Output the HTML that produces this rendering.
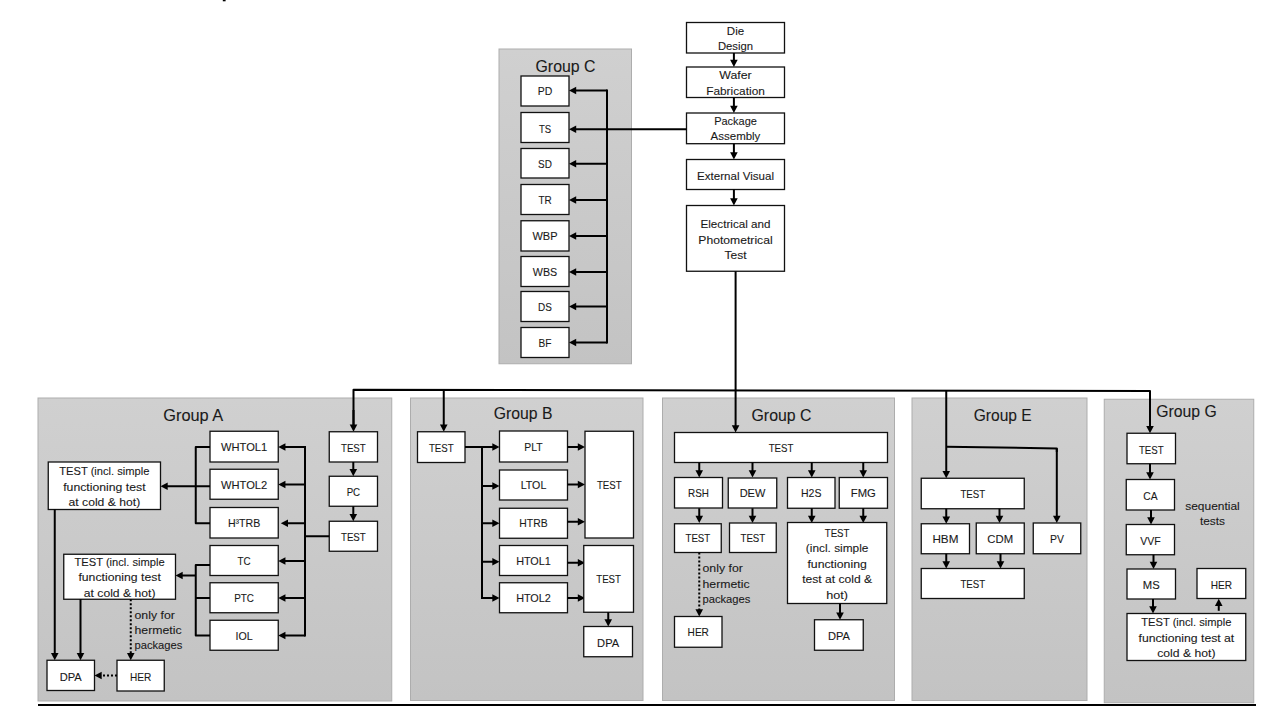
<!DOCTYPE html>
<html><head><meta charset="utf-8"><style>
html,body{margin:0;padding:0;background:#fff;width:1280px;height:708px;overflow:hidden}
svg{display:block}
text{font-family:"Liberation Sans",sans-serif;fill:#1a1a1a;stroke:#1a1a1a;stroke-width:0.1px}
</style></head><body>
<svg width="1280" height="708" viewBox="0 0 1280 708">
<defs><linearGradient id="pg" x1="0" y1="0" x2="0" y2="1"><stop offset="0" stop-color="#d0d0d0"/><stop offset="1" stop-color="#c3c3c3"/></linearGradient></defs>
<rect x="499.00" y="49.00" width="132.50" height="314.75" fill="url(#pg)" stroke="#adadad" stroke-width="1"/>
<rect x="38.00" y="398.00" width="353.75" height="303.00" fill="url(#pg)" stroke="#adadad" stroke-width="1"/>
<rect x="410.50" y="398.00" width="232.50" height="302.50" fill="url(#pg)" stroke="#adadad" stroke-width="1"/>
<rect x="662.50" y="398.00" width="232.00" height="302.50" fill="url(#pg)" stroke="#adadad" stroke-width="1"/>
<rect x="912.00" y="398.00" width="175.00" height="302.50" fill="url(#pg)" stroke="#adadad" stroke-width="1"/>
<rect x="1104.25" y="399.25" width="149.50" height="303.50" fill="url(#pg)" stroke="#adadad" stroke-width="1"/>
<rect x="686.50" y="22.50" width="98.00" height="30.50" fill="#fff" stroke="#111" stroke-width="1.3"/>
<text x="735.50" y="34.80" font-size="11.3" text-anchor="middle" textLength="17.28" lengthAdjust="spacingAndGlyphs">Die</text>
<text x="735.50" y="50.00" font-size="11.3" text-anchor="middle" textLength="35.12" lengthAdjust="spacingAndGlyphs">Design</text>
<rect x="686.50" y="67.00" width="98.00" height="30.50" fill="#fff" stroke="#111" stroke-width="1.3"/>
<text x="735.50" y="79.30" font-size="11.3" text-anchor="middle" textLength="32.43" lengthAdjust="spacingAndGlyphs">Wafer</text>
<text x="735.50" y="94.80" font-size="11.3" text-anchor="middle" textLength="58.67" lengthAdjust="spacingAndGlyphs">Fabrication</text>
<rect x="686.50" y="113.00" width="98.00" height="30.70" fill="#fff" stroke="#111" stroke-width="1.3"/>
<text x="735.50" y="125.00" font-size="11.3" text-anchor="middle" textLength="42.73" lengthAdjust="spacingAndGlyphs">Package</text>
<text x="735.50" y="140.00" font-size="11.3" text-anchor="middle" textLength="49.73" lengthAdjust="spacingAndGlyphs">Assembly</text>
<rect x="686.50" y="159.50" width="98.00" height="30.00" fill="#fff" stroke="#111" stroke-width="1.3"/>
<text x="735.50" y="179.60" font-size="11.3" text-anchor="middle" textLength="76.99" lengthAdjust="spacingAndGlyphs">External Visual</text>
<rect x="686.50" y="205.50" width="98.00" height="65.75" fill="#fff" stroke="#111" stroke-width="1.3"/>
<text x="735.50" y="228.10" font-size="11.3" text-anchor="middle" textLength="69.98" lengthAdjust="spacingAndGlyphs">Electrical and</text>
<text x="735.50" y="243.75" font-size="11.3" text-anchor="middle" textLength="74.28" lengthAdjust="spacingAndGlyphs">Photometrical</text>
<text x="735.50" y="258.75" font-size="11.3" text-anchor="middle" textLength="22.01" lengthAdjust="spacingAndGlyphs">Test</text>
<path d="M733.90 53.00 L733.90 61.00" fill="none" stroke="#000" stroke-width="2" stroke-linejoin="round"/>
<path d="M733.90 67.00 L730.10 59.80 L737.70 59.80 Z" fill="#000"/>
<path d="M733.90 97.50 L733.90 107.00" fill="none" stroke="#000" stroke-width="2" stroke-linejoin="round"/>
<path d="M733.90 113.00 L730.10 105.80 L737.70 105.80 Z" fill="#000"/>
<path d="M733.90 143.70 L733.90 153.50" fill="none" stroke="#000" stroke-width="2" stroke-linejoin="round"/>
<path d="M733.90 159.50 L730.10 152.30 L737.70 152.30 Z" fill="#000"/>
<path d="M733.90 189.50 L733.90 199.50" fill="none" stroke="#000" stroke-width="2" stroke-linejoin="round"/>
<path d="M733.90 205.50 L730.10 198.30 L737.70 198.30 Z" fill="#000"/>
<text x="535.50" y="72.00" font-size="16.3" text-anchor="start" textLength="60.00" lengthAdjust="spacingAndGlyphs">Group C</text>
<rect x="521.00" y="76.00" width="48.00" height="30.00" fill="#fff" stroke="#111" stroke-width="1.3"/>
<text x="545.00" y="94.50" font-size="11.3" text-anchor="middle" textLength="14.56" lengthAdjust="spacingAndGlyphs">PD</text>
<path d="M607.00 90.50 L575.00 90.50" fill="none" stroke="#000" stroke-width="2" stroke-linejoin="round"/>
<path d="M569.00 90.50 L576.20 86.70 L576.20 94.30 Z" fill="#000"/>
<rect x="521.00" y="112.50" width="48.00" height="30.00" fill="#fff" stroke="#111" stroke-width="1.3"/>
<text x="545.00" y="133.25" font-size="11.3" text-anchor="middle" textLength="12.17" lengthAdjust="spacingAndGlyphs">TS</text>
<rect x="521.00" y="148.50" width="48.00" height="29.50" fill="#fff" stroke="#111" stroke-width="1.3"/>
<text x="545.00" y="167.75" font-size="11.3" text-anchor="middle" textLength="13.82" lengthAdjust="spacingAndGlyphs">SD</text>
<path d="M607.00 163.75 L575.00 163.75" fill="none" stroke="#000" stroke-width="2" stroke-linejoin="round"/>
<path d="M569.00 163.75 L576.20 159.95 L576.20 167.55 Z" fill="#000"/>
<rect x="521.00" y="184.50" width="48.00" height="30.00" fill="#fff" stroke="#111" stroke-width="1.3"/>
<text x="545.00" y="204.00" font-size="11.3" text-anchor="middle" textLength="13.25" lengthAdjust="spacingAndGlyphs">TR</text>
<path d="M607.00 200.00 L575.00 200.00" fill="none" stroke="#000" stroke-width="2" stroke-linejoin="round"/>
<path d="M569.00 200.00 L576.20 196.20 L576.20 203.80 Z" fill="#000"/>
<rect x="521.00" y="220.75" width="48.00" height="30.25" fill="#fff" stroke="#111" stroke-width="1.3"/>
<text x="545.00" y="240.00" font-size="11.3" text-anchor="middle" textLength="25.10" lengthAdjust="spacingAndGlyphs">WBP</text>
<path d="M607.00 236.00 L575.00 236.00" fill="none" stroke="#000" stroke-width="2" stroke-linejoin="round"/>
<path d="M569.00 236.00 L576.20 232.20 L576.20 239.80 Z" fill="#000"/>
<rect x="521.00" y="256.50" width="48.00" height="30.00" fill="#fff" stroke="#111" stroke-width="1.3"/>
<text x="545.00" y="276.00" font-size="11.3" text-anchor="middle" textLength="24.35" lengthAdjust="spacingAndGlyphs">WBS</text>
<path d="M607.00 272.00 L575.00 272.00" fill="none" stroke="#000" stroke-width="2" stroke-linejoin="round"/>
<path d="M569.00 272.00 L576.20 268.20 L576.20 275.80 Z" fill="#000"/>
<rect x="521.00" y="291.50" width="48.00" height="30.00" fill="#fff" stroke="#111" stroke-width="1.3"/>
<text x="545.00" y="310.50" font-size="11.3" text-anchor="middle" textLength="13.82" lengthAdjust="spacingAndGlyphs">DS</text>
<path d="M607.00 306.50 L575.00 306.50" fill="none" stroke="#000" stroke-width="2" stroke-linejoin="round"/>
<path d="M569.00 306.50 L576.20 302.70 L576.20 310.30 Z" fill="#000"/>
<rect x="521.00" y="327.50" width="48.00" height="30.00" fill="#fff" stroke="#111" stroke-width="1.3"/>
<text x="545.00" y="346.50" font-size="11.3" text-anchor="middle" textLength="12.90" lengthAdjust="spacingAndGlyphs">BF</text>
<path d="M607.00 342.50 L575.00 342.50" fill="none" stroke="#000" stroke-width="2" stroke-linejoin="round"/>
<path d="M569.00 342.50 L576.20 338.70 L576.20 346.30 Z" fill="#000"/>
<path d="M607.00 89.50 L607.00 343.50" fill="none" stroke="#000" stroke-width="2" stroke-linejoin="round"/>
<path d="M686.50 129.25 L575.00 129.25" fill="none" stroke="#000" stroke-width="2" stroke-linejoin="round"/>
<path d="M569.00 129.25 L576.20 125.45 L576.20 133.05 Z" fill="#000"/>
<path d="M735.60 271.25 L735.60 390.50" fill="none" stroke="#000" stroke-width="2" stroke-linejoin="round"/>
<path d="M353.50 426.00 L353.50 389.80 L1150.00 391.00 L1150.00 427.00" fill="none" stroke="#000" stroke-width="2" stroke-linejoin="round"/>
<path d="M353.50 410.00 L353.50 425.75" fill="none" stroke="#000" stroke-width="2" stroke-linejoin="round"/>
<path d="M353.50 431.75 L349.70 424.55 L357.30 424.55 Z" fill="#000"/>
<path d="M443.75 389.94 L443.75 425.75" fill="none" stroke="#000" stroke-width="2" stroke-linejoin="round"/>
<path d="M443.75 431.75 L439.95 424.55 L447.55 424.55 Z" fill="#000"/>
<path d="M735.60 390.38 L735.60 426.50" fill="none" stroke="#000" stroke-width="2" stroke-linejoin="round"/>
<path d="M735.60 432.50 L731.80 425.30 L739.40 425.30 Z" fill="#000"/>
<path d="M946.25 390.69 L946.25 472.25" fill="none" stroke="#000" stroke-width="2" stroke-linejoin="round"/>
<path d="M946.25 478.25 L942.45 471.05 L950.05 471.05 Z" fill="#000"/>
<path d="M1150.00 410.00 L1150.00 427.25" fill="none" stroke="#000" stroke-width="2" stroke-linejoin="round"/>
<path d="M1150.00 433.25 L1146.20 426.05 L1153.80 426.05 Z" fill="#000"/>
<text x="163.25" y="421.00" font-size="16.3" text-anchor="start" textLength="60.00" lengthAdjust="spacingAndGlyphs">Group A</text>
<rect x="329.25" y="431.75" width="48.25" height="30.25" fill="#fff" stroke="#111" stroke-width="1.3"/>
<text x="353.38" y="452.00" font-size="11.3" text-anchor="middle" textLength="24.71" lengthAdjust="spacingAndGlyphs">TEST</text>
<rect x="329.25" y="476.25" width="48.25" height="30.00" fill="#fff" stroke="#111" stroke-width="1.3"/>
<text x="353.38" y="496.00" font-size="11.3" text-anchor="middle" textLength="13.51" lengthAdjust="spacingAndGlyphs">PC</text>
<rect x="329.25" y="521.25" width="48.25" height="30.00" fill="#fff" stroke="#111" stroke-width="1.3"/>
<text x="353.38" y="541.00" font-size="11.3" text-anchor="middle" textLength="24.71" lengthAdjust="spacingAndGlyphs">TEST</text>
<path d="M353.30 462.00 L353.30 470.25" fill="none" stroke="#000" stroke-width="2" stroke-linejoin="round"/>
<path d="M353.30 476.25 L349.50 469.05 L357.10 469.05 Z" fill="#000"/>
<path d="M353.30 506.25 L353.30 515.25" fill="none" stroke="#000" stroke-width="2" stroke-linejoin="round"/>
<path d="M353.30 521.25 L349.50 514.05 L357.10 514.05 Z" fill="#000"/>
<path d="M329.25 536.25 L305.00 536.25" fill="none" stroke="#000" stroke-width="2" stroke-linejoin="round"/>
<path d="M305.00 446.00 L305.00 636.50" fill="none" stroke="#000" stroke-width="2" stroke-linejoin="round"/>
<rect x="210.00" y="431.25" width="68.25" height="30.75" fill="#fff" stroke="#111" stroke-width="1.3"/>
<text x="244.12" y="451.00" font-size="11.3" text-anchor="middle" textLength="46.17" lengthAdjust="spacingAndGlyphs">WHTOL1</text>
<path d="M305.00 447.00 L284.25 447.00" fill="none" stroke="#000" stroke-width="2" stroke-linejoin="round"/>
<path d="M278.25 447.00 L285.45 443.20 L285.45 450.80 Z" fill="#000"/>
<rect x="210.00" y="469.25" width="68.25" height="30.00" fill="#fff" stroke="#111" stroke-width="1.3"/>
<text x="244.12" y="488.50" font-size="11.3" text-anchor="middle" textLength="46.17" lengthAdjust="spacingAndGlyphs">WHTOL2</text>
<path d="M305.00 484.50 L284.25 484.50" fill="none" stroke="#000" stroke-width="2" stroke-linejoin="round"/>
<path d="M278.25 484.50 L285.45 480.70 L285.45 488.30 Z" fill="#000"/>
<rect x="210.00" y="507.50" width="68.25" height="30.50" fill="#fff" stroke="#111" stroke-width="1.3"/>
<text x="244.12" y="527.25" font-size="11.3" text-anchor="middle" textLength="32.38" lengthAdjust="spacingAndGlyphs">H³TRB</text>
<path d="M305.00 523.25 L286.80 523.25" fill="none" stroke="#000" stroke-width="2" stroke-linejoin="round"/>
<path d="M280.80 523.25 L288.00 519.45 L288.00 527.05 Z" fill="#000"/>
<rect x="210.00" y="545.50" width="68.25" height="30.00" fill="#fff" stroke="#111" stroke-width="1.3"/>
<text x="244.12" y="565.00" font-size="11.3" text-anchor="middle" textLength="13.12" lengthAdjust="spacingAndGlyphs">TC</text>
<path d="M305.00 561.00 L284.25 561.00" fill="none" stroke="#000" stroke-width="2" stroke-linejoin="round"/>
<path d="M278.25 561.00 L285.45 557.20 L285.45 564.80 Z" fill="#000"/>
<rect x="210.00" y="582.75" width="68.25" height="30.00" fill="#fff" stroke="#111" stroke-width="1.3"/>
<text x="244.12" y="602.00" font-size="11.3" text-anchor="middle" textLength="19.77" lengthAdjust="spacingAndGlyphs">PTC</text>
<path d="M305.00 598.00 L284.25 598.00" fill="none" stroke="#000" stroke-width="2" stroke-linejoin="round"/>
<path d="M278.25 598.00 L285.45 594.20 L285.45 601.80 Z" fill="#000"/>
<rect x="210.00" y="620.25" width="68.25" height="30.00" fill="#fff" stroke="#111" stroke-width="1.3"/>
<text x="244.12" y="639.50" font-size="11.3" text-anchor="middle" textLength="17.16" lengthAdjust="spacingAndGlyphs">IOL</text>
<path d="M305.00 635.50 L284.25 635.50" fill="none" stroke="#000" stroke-width="2" stroke-linejoin="round"/>
<path d="M278.25 635.50 L285.45 631.70 L285.45 639.30 Z" fill="#000"/>
<path d="M210.00 447.00 L195.75 447.00 L195.75 523.25 L210.00 523.25" fill="none" stroke="#000" stroke-width="2" stroke-linejoin="round"/>
<path d="M210.00 486.25 L166.50 486.25" fill="none" stroke="#000" stroke-width="2" stroke-linejoin="round"/>
<path d="M160.50 486.25 L167.70 482.45 L167.70 490.05 Z" fill="#000"/>
<path d="M210.00 565.00 L195.75 565.00 L195.75 635.50 L210.00 635.50" fill="none" stroke="#000" stroke-width="2" stroke-linejoin="round"/>
<path d="M195.75 598.00 L210.00 598.00" fill="none" stroke="#000" stroke-width="2" stroke-linejoin="round"/>
<path d="M195.75 575.50 L181.50 575.50" fill="none" stroke="#000" stroke-width="2" stroke-linejoin="round"/>
<path d="M175.50 575.50 L182.70 571.70 L182.70 579.30 Z" fill="#000"/>
<rect x="48.25" y="462.00" width="112.25" height="47.50" fill="#fff" stroke="#111" stroke-width="1.3"/>
<text x="104.38" y="475.00" font-size="11.3" text-anchor="middle" textLength="90.16" lengthAdjust="spacingAndGlyphs">TEST (incl. simple</text>
<text x="104.38" y="490.50" font-size="11.3" text-anchor="middle" textLength="82.41" lengthAdjust="spacingAndGlyphs">functioning test</text>
<text x="104.38" y="505.75" font-size="11.3" text-anchor="middle" textLength="71.64" lengthAdjust="spacingAndGlyphs">at cold &amp; hot)</text>
<rect x="63.75" y="554.25" width="111.75" height="45.00" fill="#fff" stroke="#111" stroke-width="1.3"/>
<text x="119.62" y="566.00" font-size="11.3" text-anchor="middle" textLength="90.16" lengthAdjust="spacingAndGlyphs">TEST (incl. simple</text>
<text x="119.62" y="581.00" font-size="11.3" text-anchor="middle" textLength="82.41" lengthAdjust="spacingAndGlyphs">functioning test</text>
<text x="119.62" y="596.50" font-size="11.3" text-anchor="middle" textLength="71.64" lengthAdjust="spacingAndGlyphs">at cold &amp; hot)</text>
<path d="M54.75 509.50 L54.75 654.25" fill="none" stroke="#000" stroke-width="2" stroke-linejoin="round"/>
<path d="M54.75 660.25 L50.95 653.05 L58.55 653.05 Z" fill="#000"/>
<path d="M80.50 599.25 L80.50 654.25" fill="none" stroke="#000" stroke-width="2" stroke-linejoin="round"/>
<path d="M80.50 660.25 L76.70 653.05 L84.30 653.05 Z" fill="#000"/>
<path d="M130.75 599.25 L130.75 654.25" fill="none" stroke="#000" stroke-width="2" stroke-linejoin="round" stroke-dasharray="2,2"/>
<path d="M130.75 660.25 L126.95 653.05 L134.55 653.05 Z" fill="#000"/>
<text x="134.50" y="619.00" font-size="11.3" text-anchor="start" textLength="40.42" lengthAdjust="spacingAndGlyphs">only for</text>
<text x="134.50" y="634.00" font-size="11.3" text-anchor="start" textLength="47.04" lengthAdjust="spacingAndGlyphs">hermetic</text>
<text x="134.50" y="649.00" font-size="11.3" text-anchor="start" textLength="47.87" lengthAdjust="spacingAndGlyphs">packages</text>
<rect x="47.00" y="660.25" width="47.50" height="30.25" fill="#fff" stroke="#111" stroke-width="1.3"/>
<text x="70.75" y="680.50" font-size="11.3" text-anchor="middle" textLength="22.01" lengthAdjust="spacingAndGlyphs">DPA</text>
<rect x="117.00" y="660.25" width="47.25" height="30.75" fill="#fff" stroke="#111" stroke-width="1.3"/>
<text x="140.62" y="680.60" font-size="11.3" text-anchor="middle" textLength="21.28" lengthAdjust="spacingAndGlyphs">HER</text>
<path d="M117.00 675.50 L100.50 675.50" fill="none" stroke="#000" stroke-width="2" stroke-linejoin="round" stroke-dasharray="2,2"/>
<path d="M94.50 675.50 L101.70 671.70 L101.70 679.30 Z" fill="#000"/>
<text x="493.75" y="419.00" font-size="16.3" text-anchor="start" textLength="58.75" lengthAdjust="spacingAndGlyphs">Group B</text>
<rect x="417.50" y="431.75" width="47.50" height="30.75" fill="#fff" stroke="#111" stroke-width="1.3"/>
<text x="441.25" y="452.00" font-size="11.3" text-anchor="middle" textLength="24.71" lengthAdjust="spacingAndGlyphs">TEST</text>
<path d="M465.00 447.00 L493.50 447.00" fill="none" stroke="#000" stroke-width="2" stroke-linejoin="round"/>
<path d="M499.50 447.00 L492.30 443.20 L492.30 450.80 Z" fill="#000"/>
<path d="M482.00 447.00 L482.00 599.00" fill="none" stroke="#000" stroke-width="2" stroke-linejoin="round"/>
<rect x="499.50" y="431.00" width="68.00" height="31.00" fill="#fff" stroke="#111" stroke-width="1.3"/>
<text x="533.50" y="450.50" font-size="11.3" text-anchor="middle" textLength="18.32" lengthAdjust="spacingAndGlyphs">PLT</text>
<path d="M567.50 447.00 L579.00 447.00" fill="none" stroke="#000" stroke-width="2" stroke-linejoin="round"/>
<path d="M585.00 447.00 L577.80 443.20 L577.80 450.80 Z" fill="#000"/>
<rect x="499.50" y="470.00" width="68.00" height="30.00" fill="#fff" stroke="#111" stroke-width="1.3"/>
<text x="533.50" y="489.00" font-size="11.3" text-anchor="middle" textLength="25.59" lengthAdjust="spacingAndGlyphs">LTOL</text>
<path d="M482.00 486.00 L493.50 486.00" fill="none" stroke="#000" stroke-width="2" stroke-linejoin="round"/>
<path d="M499.50 486.00 L492.30 482.20 L492.30 489.80 Z" fill="#000"/>
<path d="M567.50 484.50 L579.00 484.50" fill="none" stroke="#000" stroke-width="2" stroke-linejoin="round"/>
<path d="M585.00 484.50 L577.80 480.70 L577.80 488.30 Z" fill="#000"/>
<rect x="499.50" y="508.25" width="68.00" height="30.00" fill="#fff" stroke="#111" stroke-width="1.3"/>
<text x="533.50" y="527.25" font-size="11.3" text-anchor="middle" textLength="28.26" lengthAdjust="spacingAndGlyphs">HTRB</text>
<path d="M482.00 523.25 L493.50 523.25" fill="none" stroke="#000" stroke-width="2" stroke-linejoin="round"/>
<path d="M499.50 523.25 L492.30 519.45 L492.30 527.05 Z" fill="#000"/>
<path d="M567.50 521.75 L579.00 521.75" fill="none" stroke="#000" stroke-width="2" stroke-linejoin="round"/>
<path d="M585.00 521.75 L577.80 517.95 L577.80 525.55 Z" fill="#000"/>
<rect x="499.50" y="545.50" width="68.00" height="30.00" fill="#fff" stroke="#111" stroke-width="1.3"/>
<text x="533.50" y="564.50" font-size="11.3" text-anchor="middle" textLength="34.72" lengthAdjust="spacingAndGlyphs">HTOL1</text>
<path d="M482.00 561.75 L493.50 561.75" fill="none" stroke="#000" stroke-width="2" stroke-linejoin="round"/>
<path d="M499.50 561.75 L492.30 557.95 L492.30 565.55 Z" fill="#000"/>
<path d="M567.50 562.75 L579.00 562.75" fill="none" stroke="#000" stroke-width="2" stroke-linejoin="round"/>
<path d="M585.00 562.75 L577.80 558.95 L577.80 566.55 Z" fill="#000"/>
<rect x="499.50" y="582.75" width="68.00" height="30.00" fill="#fff" stroke="#111" stroke-width="1.3"/>
<text x="533.50" y="601.75" font-size="11.3" text-anchor="middle" textLength="34.72" lengthAdjust="spacingAndGlyphs">HTOL2</text>
<path d="M482.00 598.00 L493.50 598.00" fill="none" stroke="#000" stroke-width="2" stroke-linejoin="round"/>
<path d="M499.50 598.00 L492.30 594.20 L492.30 601.80 Z" fill="#000"/>
<path d="M567.50 598.00 L579.00 598.00" fill="none" stroke="#000" stroke-width="2" stroke-linejoin="round"/>
<path d="M585.00 598.00 L577.80 594.20 L577.80 601.80 Z" fill="#000"/>
<rect x="585.00" y="431.25" width="48.50" height="106.75" fill="#fff" stroke="#111" stroke-width="1.3"/>
<text x="609.25" y="489.25" font-size="11.3" text-anchor="middle" textLength="24.71" lengthAdjust="spacingAndGlyphs">TEST</text>
<rect x="583.75" y="545.50" width="49.75" height="66.75" fill="#fff" stroke="#111" stroke-width="1.3"/>
<text x="608.62" y="583.00" font-size="11.3" text-anchor="middle" textLength="24.71" lengthAdjust="spacingAndGlyphs">TEST</text>
<path d="M608.25 612.25 L608.25 620.50" fill="none" stroke="#000" stroke-width="2" stroke-linejoin="round"/>
<path d="M608.25 626.50 L604.45 619.30 L612.05 619.30 Z" fill="#000"/>
<rect x="583.75" y="626.50" width="48.75" height="30.25" fill="#fff" stroke="#111" stroke-width="1.3"/>
<text x="608.12" y="646.80" font-size="11.3" text-anchor="middle" textLength="22.01" lengthAdjust="spacingAndGlyphs">DPA</text>
<text x="751.50" y="420.75" font-size="16.3" text-anchor="start" textLength="60.00" lengthAdjust="spacingAndGlyphs">Group C</text>
<rect x="674.50" y="432.50" width="213.00" height="30.00" fill="#fff" stroke="#111" stroke-width="1.3"/>
<text x="781.00" y="452.00" font-size="11.3" text-anchor="middle" textLength="24.71" lengthAdjust="spacingAndGlyphs">TEST</text>
<path d="M699.25 462.50 L699.25 471.50" fill="none" stroke="#000" stroke-width="2" stroke-linejoin="round"/>
<path d="M699.25 477.50 L695.45 470.30 L703.05 470.30 Z" fill="#000"/>
<path d="M752.50 462.50 L752.50 471.50" fill="none" stroke="#000" stroke-width="2" stroke-linejoin="round"/>
<path d="M752.50 477.50 L748.70 470.30 L756.30 470.30 Z" fill="#000"/>
<path d="M811.75 462.50 L811.75 471.50" fill="none" stroke="#000" stroke-width="2" stroke-linejoin="round"/>
<path d="M811.75 477.50 L807.95 470.30 L815.55 470.30 Z" fill="#000"/>
<path d="M863.25 462.50 L863.25 471.50" fill="none" stroke="#000" stroke-width="2" stroke-linejoin="round"/>
<path d="M863.25 477.50 L859.45 470.30 L867.05 470.30 Z" fill="#000"/>
<rect x="674.50" y="477.50" width="48.00" height="30.50" fill="#fff" stroke="#111" stroke-width="1.3"/>
<text x="698.50" y="497.00" font-size="11.3" text-anchor="middle" textLength="20.90" lengthAdjust="spacingAndGlyphs">RSH</text>
<rect x="728.25" y="478.00" width="48.50" height="30.00" fill="#fff" stroke="#111" stroke-width="1.3"/>
<text x="752.50" y="497.00" font-size="11.3" text-anchor="middle" textLength="25.64" lengthAdjust="spacingAndGlyphs">DEW</text>
<rect x="787.50" y="477.50" width="47.50" height="30.75" fill="#fff" stroke="#111" stroke-width="1.3"/>
<text x="811.25" y="497.00" font-size="11.3" text-anchor="middle" textLength="20.44" lengthAdjust="spacingAndGlyphs">H2S</text>
<rect x="839.25" y="477.50" width="48.25" height="30.75" fill="#fff" stroke="#111" stroke-width="1.3"/>
<text x="863.38" y="497.00" font-size="11.3" text-anchor="middle" textLength="25.02" lengthAdjust="spacingAndGlyphs">FMG</text>
<path d="M699.25 508.25 L699.25 517.00" fill="none" stroke="#000" stroke-width="2" stroke-linejoin="round"/>
<path d="M699.25 523.00 L695.45 515.80 L703.05 515.80 Z" fill="#000"/>
<path d="M752.50 508.25 L752.50 517.00" fill="none" stroke="#000" stroke-width="2" stroke-linejoin="round"/>
<path d="M752.50 523.00 L748.70 515.80 L756.30 515.80 Z" fill="#000"/>
<path d="M811.75 508.25 L811.75 517.00" fill="none" stroke="#000" stroke-width="2" stroke-linejoin="round"/>
<path d="M811.75 523.00 L807.95 515.80 L815.55 515.80 Z" fill="#000"/>
<path d="M863.25 508.25 L863.25 517.00" fill="none" stroke="#000" stroke-width="2" stroke-linejoin="round"/>
<path d="M863.25 523.00 L859.45 515.80 L867.05 515.80 Z" fill="#000"/>
<rect x="674.50" y="523.75" width="46.75" height="28.75" fill="#fff" stroke="#111" stroke-width="1.3"/>
<text x="697.88" y="542.00" font-size="11.3" text-anchor="middle" textLength="24.71" lengthAdjust="spacingAndGlyphs">TEST</text>
<rect x="729.50" y="523.00" width="46.75" height="29.50" fill="#fff" stroke="#111" stroke-width="1.3"/>
<text x="752.88" y="542.00" font-size="11.3" text-anchor="middle" textLength="24.71" lengthAdjust="spacingAndGlyphs">TEST</text>
<rect x="787.50" y="522.50" width="99.25" height="81.00" fill="#fff" stroke="#111" stroke-width="1.3"/>
<text x="837.12" y="536.75" font-size="11.3" text-anchor="middle" textLength="24.71" lengthAdjust="spacingAndGlyphs">TEST</text>
<text x="837.12" y="552.30" font-size="11.3" text-anchor="middle" textLength="62.54" lengthAdjust="spacingAndGlyphs">(incl. simple</text>
<text x="837.12" y="568.00" font-size="11.3" text-anchor="middle" textLength="59.44" lengthAdjust="spacingAndGlyphs">functioning</text>
<text x="837.12" y="583.00" font-size="11.3" text-anchor="middle" textLength="69.95" lengthAdjust="spacingAndGlyphs">test at cold &amp;</text>
<text x="837.12" y="598.50" font-size="11.3" text-anchor="middle" textLength="21.74" lengthAdjust="spacingAndGlyphs">hot)</text>
<path d="M840.00 603.50 L840.00 613.75" fill="none" stroke="#000" stroke-width="2" stroke-linejoin="round"/>
<path d="M840.00 619.75 L836.20 612.55 L843.80 612.55 Z" fill="#000"/>
<rect x="814.50" y="619.75" width="48.75" height="30.50" fill="#fff" stroke="#111" stroke-width="1.3"/>
<text x="838.88" y="639.50" font-size="11.3" text-anchor="middle" textLength="22.01" lengthAdjust="spacingAndGlyphs">DPA</text>
<path d="M699.25 552.50 L699.25 610.50" fill="none" stroke="#000" stroke-width="2" stroke-linejoin="round" stroke-dasharray="2,2"/>
<path d="M699.25 616.50 L695.45 609.30 L703.05 609.30 Z" fill="#000"/>
<text x="702.50" y="572.25" font-size="11.3" text-anchor="start" textLength="40.42" lengthAdjust="spacingAndGlyphs">only for</text>
<text x="702.50" y="587.75" font-size="11.3" text-anchor="start" textLength="47.04" lengthAdjust="spacingAndGlyphs">hermetic</text>
<text x="702.50" y="602.75" font-size="11.3" text-anchor="start" textLength="47.87" lengthAdjust="spacingAndGlyphs">packages</text>
<rect x="674.50" y="616.50" width="47.50" height="30.75" fill="#fff" stroke="#111" stroke-width="1.3"/>
<text x="698.25" y="636.00" font-size="11.3" text-anchor="middle" textLength="21.28" lengthAdjust="spacingAndGlyphs">HER</text>
<text x="973.75" y="420.75" font-size="16.3" text-anchor="start" textLength="58.00" lengthAdjust="spacingAndGlyphs">Group E</text>
<rect x="921.25" y="478.25" width="103.00" height="30.50" fill="#fff" stroke="#111" stroke-width="1.3"/>
<text x="972.75" y="498.00" font-size="11.3" text-anchor="middle" textLength="24.71" lengthAdjust="spacingAndGlyphs">TEST</text>
<path d="M946.25 446.80 L1056.80 448.40 L1056.80 452.00" fill="none" stroke="#000" stroke-width="2" stroke-linejoin="round"/>
<path d="M1056.80 448.40 L1056.80 517.00" fill="none" stroke="#000" stroke-width="2" stroke-linejoin="round"/>
<path d="M1056.80 523.00 L1053.00 515.80 L1060.60 515.80 Z" fill="#000"/>
<path d="M946.25 508.75 L946.25 517.75" fill="none" stroke="#000" stroke-width="2" stroke-linejoin="round"/>
<path d="M946.25 523.75 L942.45 516.55 L950.05 516.55 Z" fill="#000"/>
<path d="M999.50 508.75 L999.50 517.00" fill="none" stroke="#000" stroke-width="2" stroke-linejoin="round"/>
<path d="M999.50 523.00 L995.70 515.80 L1003.30 515.80 Z" fill="#000"/>
<rect x="921.25" y="523.75" width="48.25" height="30.00" fill="#fff" stroke="#111" stroke-width="1.3"/>
<text x="945.38" y="543.00" font-size="11.3" text-anchor="middle" textLength="26.01" lengthAdjust="spacingAndGlyphs">HBM</text>
<rect x="976.25" y="523.00" width="48.00" height="30.75" fill="#fff" stroke="#111" stroke-width="1.3"/>
<text x="1000.25" y="543.00" font-size="11.3" text-anchor="middle" textLength="25.77" lengthAdjust="spacingAndGlyphs">CDM</text>
<rect x="1033.25" y="523.00" width="47.50" height="30.75" fill="#fff" stroke="#111" stroke-width="1.3"/>
<text x="1057.00" y="543.00" font-size="11.3" text-anchor="middle" textLength="13.94" lengthAdjust="spacingAndGlyphs">PV</text>
<path d="M946.25 553.75 L946.25 562.50" fill="none" stroke="#000" stroke-width="2" stroke-linejoin="round"/>
<path d="M946.25 568.50 L942.45 561.30 L950.05 561.30 Z" fill="#000"/>
<path d="M1000.50 553.75 L1000.50 562.50" fill="none" stroke="#000" stroke-width="2" stroke-linejoin="round"/>
<path d="M1000.50 568.50 L996.70 561.30 L1004.30 561.30 Z" fill="#000"/>
<rect x="921.25" y="568.50" width="103.00" height="30.00" fill="#fff" stroke="#111" stroke-width="1.3"/>
<text x="972.75" y="588.00" font-size="11.3" text-anchor="middle" textLength="24.71" lengthAdjust="spacingAndGlyphs">TEST</text>
<text x="1156.25" y="417.00" font-size="16.3" text-anchor="start" textLength="60.50" lengthAdjust="spacingAndGlyphs">Group G</text>
<rect x="1127.00" y="433.25" width="48.50" height="30.50" fill="#fff" stroke="#111" stroke-width="1.3"/>
<text x="1151.25" y="454.00" font-size="11.3" text-anchor="middle" textLength="24.71" lengthAdjust="spacingAndGlyphs">TEST</text>
<path d="M1150.00 463.75 L1150.00 473.50" fill="none" stroke="#000" stroke-width="2" stroke-linejoin="round"/>
<path d="M1150.00 479.50 L1146.20 472.30 L1153.80 472.30 Z" fill="#000"/>
<rect x="1126.25" y="479.50" width="48.25" height="30.50" fill="#fff" stroke="#111" stroke-width="1.3"/>
<text x="1150.38" y="499.70" font-size="11.3" text-anchor="middle" textLength="14.30" lengthAdjust="spacingAndGlyphs">CA</text>
<path d="M1151.00 510.00 L1151.00 518.50" fill="none" stroke="#000" stroke-width="2" stroke-linejoin="round"/>
<path d="M1151.00 524.50 L1147.20 517.30 L1154.80 517.30 Z" fill="#000"/>
<rect x="1126.25" y="524.50" width="48.25" height="30.25" fill="#fff" stroke="#111" stroke-width="1.3"/>
<text x="1150.38" y="544.60" font-size="11.3" text-anchor="middle" textLength="20.49" lengthAdjust="spacingAndGlyphs">VVF</text>
<path d="M1153.50 554.75 L1153.50 563.00" fill="none" stroke="#000" stroke-width="2" stroke-linejoin="round"/>
<path d="M1153.50 569.00 L1149.70 561.80 L1157.30 561.80 Z" fill="#000"/>
<rect x="1127.00" y="569.00" width="48.50" height="30.00" fill="#fff" stroke="#111" stroke-width="1.3"/>
<text x="1151.25" y="589.20" font-size="11.3" text-anchor="middle" textLength="16.90" lengthAdjust="spacingAndGlyphs">MS</text>
<rect x="1197.00" y="568.50" width="48.75" height="30.00" fill="#fff" stroke="#111" stroke-width="1.3"/>
<text x="1221.38" y="588.70" font-size="11.3" text-anchor="middle" textLength="21.28" lengthAdjust="spacingAndGlyphs">HER</text>
<path d="M1153.00 599.00 L1153.00 607.50" fill="none" stroke="#000" stroke-width="2" stroke-linejoin="round"/>
<path d="M1153.00 613.50 L1149.20 606.30 L1156.80 606.30 Z" fill="#000"/>
<rect x="1127.00" y="613.50" width="118.75" height="47.00" fill="#fff" stroke="#111" stroke-width="1.3"/>
<text x="1186.38" y="626.00" font-size="11.3" text-anchor="middle" textLength="90.16" lengthAdjust="spacingAndGlyphs">TEST (incl. simple</text>
<text x="1186.38" y="641.50" font-size="11.3" text-anchor="middle" textLength="95.79" lengthAdjust="spacingAndGlyphs">functioning test at</text>
<text x="1186.38" y="656.75" font-size="11.3" text-anchor="middle" textLength="58.26" lengthAdjust="spacingAndGlyphs">cold &amp; hot)</text>
<path d="M1218.75 610.80 L1218.75 604.80" fill="none" stroke="#000" stroke-width="2" stroke-linejoin="round"/>
<path d="M1218.75 598.80 L1214.95 606.00 L1222.55 606.00 Z" fill="#000"/>
<text x="1212.50" y="509.50" font-size="11.3" text-anchor="middle" textLength="54.49" lengthAdjust="spacingAndGlyphs">sequential</text>
<text x="1212.50" y="525.00" font-size="11.3" text-anchor="middle" textLength="25.08" lengthAdjust="spacingAndGlyphs">tests</text>
<path d="M38.00 705.00 L1256.00 705.00" fill="none" stroke="#000" stroke-width="2" stroke-linejoin="round"/>
<rect x="222.8" y="0" width="2.8" height="1.3" fill="#000"/>
</svg>
</body></html>
